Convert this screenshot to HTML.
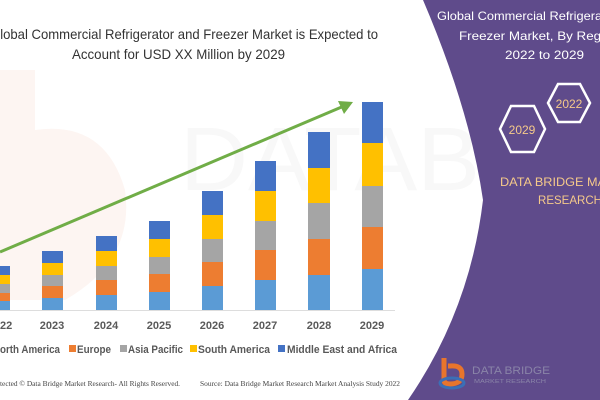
<!DOCTYPE html>
<html><head><meta charset="utf-8"><style>
html,body{margin:0;padding:0;background:#fff;width:600px;height:400px;overflow:hidden}
svg{display:block}
text{font-family:"Liberation Sans",sans-serif}
</style></head><body>
<svg width="600" height="400" viewBox="0 0 600 400" xmlns="http://www.w3.org/2000/svg">
<rect width="600" height="400" fill="#fff"/>
<!-- faint watermark -->
<path d="M0 70 h35 v60 q70 -10 90 60 q10 70 -60 110 h-65z" fill="#fdf5f2"/>
<text x="180" y="190" font-size="90" fill="#f8f8f8" textLength="300" lengthAdjust="spacingAndGlyphs">DATAB</text>
<!-- title -->
<text x="-10" y="39" font-size="14" fill="#333" textLength="388" lengthAdjust="spacingAndGlyphs">Global Commercial Refrigerator and Freezer Market is Expected to</text>
<text x="72" y="59" font-size="14" fill="#333" textLength="213" lengthAdjust="spacingAndGlyphs">Account for USD XX Million by 2029</text>
<!-- baseline -->
<line x1="0" y1="310.5" x2="395" y2="310.5" stroke="#ddd"/>
<g>
<rect x="-11" y="266" width="21" height="9" fill="#4472c4"/><rect x="-11" y="275" width="21" height="9" fill="#ffc000"/><rect x="-11" y="284" width="21" height="9" fill="#a5a5a5"/><rect x="-11" y="293" width="21" height="8" fill="#ed7d31"/><rect x="-11" y="301" width="21" height="9" fill="#5b9bd5"/>
<rect x="42" y="251" width="21" height="12" fill="#4472c4"/><rect x="42" y="263" width="21" height="12" fill="#ffc000"/><rect x="42" y="275" width="21" height="11" fill="#a5a5a5"/><rect x="42" y="286" width="21" height="12" fill="#ed7d31"/><rect x="42" y="298" width="21" height="12" fill="#5b9bd5"/>
<rect x="96" y="236" width="21" height="15" fill="#4472c4"/><rect x="96" y="251" width="21" height="15" fill="#ffc000"/><rect x="96" y="266" width="21" height="14" fill="#a5a5a5"/><rect x="96" y="280" width="21" height="15" fill="#ed7d31"/><rect x="96" y="295" width="21" height="15" fill="#5b9bd5"/>
<rect x="149" y="221" width="21" height="18" fill="#4472c4"/><rect x="149" y="239" width="21" height="18" fill="#ffc000"/><rect x="149" y="257" width="21" height="17" fill="#a5a5a5"/><rect x="149" y="274" width="21" height="18" fill="#ed7d31"/><rect x="149" y="292" width="21" height="18" fill="#5b9bd5"/>
<rect x="202" y="191" width="21" height="24" fill="#4472c4"/><rect x="202" y="215" width="21" height="24" fill="#ffc000"/><rect x="202" y="239" width="21" height="23" fill="#a5a5a5"/><rect x="202" y="262" width="21" height="24" fill="#ed7d31"/><rect x="202" y="286" width="21" height="24" fill="#5b9bd5"/>
<rect x="255" y="161" width="21" height="30" fill="#4472c4"/><rect x="255" y="191" width="21" height="30" fill="#ffc000"/><rect x="255" y="221" width="21" height="29" fill="#a5a5a5"/><rect x="255" y="250" width="21" height="30" fill="#ed7d31"/><rect x="255" y="280" width="21" height="30" fill="#5b9bd5"/>
<rect x="308" y="132" width="22" height="36" fill="#4472c4"/><rect x="308" y="168" width="22" height="35" fill="#ffc000"/><rect x="308" y="203" width="22" height="36" fill="#a5a5a5"/><rect x="308" y="239" width="22" height="36" fill="#ed7d31"/><rect x="308" y="275" width="22" height="35" fill="#5b9bd5"/>
<rect x="362" y="102" width="21" height="41" fill="#4472c4"/><rect x="362" y="143" width="21" height="43" fill="#ffc000"/><rect x="362" y="186" width="21" height="41" fill="#a5a5a5"/><rect x="362" y="227" width="21" height="42" fill="#ed7d31"/><rect x="362" y="269" width="21" height="41" fill="#5b9bd5"/>
</g>
<!-- arrow -->
<line x1="0" y1="252" x2="344" y2="106" stroke="#70ad47" stroke-width="3"/>
<polygon points="353,102 338,101 344,114" fill="#70ad47"/>
<!-- x labels -->
<g font-size="11" font-weight="bold" fill="#595959" text-anchor="middle">
<text x="0" y="329">2022</text><text x="52" y="329">2023</text><text x="106" y="329">2024</text><text x="159" y="329">2025</text><text x="212" y="329">2026</text><text x="265" y="329">2027</text><text x="319" y="329">2028</text><text x="372" y="329">2029</text>
</g>
<!-- legend -->
<g font-size="11" font-weight="bold" fill="#595959" lengthAdjust="spacingAndGlyphs">
<text x="0" y="353" textLength="60" lengthAdjust="spacingAndGlyphs">orth America</text>
<rect x="69" y="345" width="7" height="7" fill="#ed7d31"/><text x="77" y="353" textLength="34" lengthAdjust="spacingAndGlyphs">Europe</text>
<rect x="120" y="345" width="7" height="7" fill="#a5a5a5"/><text x="128" y="353" textLength="55" lengthAdjust="spacingAndGlyphs">Asia Pacific</text>
<rect x="190" y="345" width="7" height="7" fill="#ffc000"/><text x="198" y="353" textLength="72" lengthAdjust="spacingAndGlyphs">South America</text>
<rect x="278" y="345" width="7" height="7" fill="#4472c4"/><text x="287" y="353" textLength="110" lengthAdjust="spacingAndGlyphs">Middle East and Africa</text>
</g>
<g font-size="7.5" fill="#444">
<text x="0" y="386" style="font-family:'Liberation Serif',serif" textLength="180" lengthAdjust="spacingAndGlyphs">tected © Data Bridge Market Research- All Rights Reserved.</text>
<text x="200" y="386" style="font-family:'Liberation Serif',serif" textLength="200" lengthAdjust="spacingAndGlyphs">Source: Data Bridge Market Research Market Analysis Study 2022</text>
</g>
<!-- purple panel -->
<path d="M423 0 Q470 110 483 200 Q470 310 408 400 L600 400 L600 0Z" fill="#5f4b8b"/>
<g font-size="12" fill="#fff">
<text x="437" y="20" textLength="205" lengthAdjust="spacingAndGlyphs">Global Commercial Refrigerator and</text>
<text x="459" y="40" textLength="160" lengthAdjust="spacingAndGlyphs">Freezer Market, By Region</text>
<text x="505" y="59" textLength="79" lengthAdjust="spacingAndGlyphs">2022 to 2029</text>
</g>
<polygon points="548,103 558,84 580,84 590,103 580,122 558,122" fill="none" stroke="#fff" stroke-width="2.5"/>
<polygon points="500,129 511,106 534,106 545,129 534,152 511,152" fill="none" stroke="#fff" stroke-width="2.5"/>
<text x="569" y="108" font-size="12" fill="#f5c98a" text-anchor="middle">2022</text>
<text x="522" y="134" font-size="12" fill="#f5c98a" text-anchor="middle">2029</text>
<text x="500" y="186" font-size="12" fill="#f5c98a" textLength="140" lengthAdjust="spacingAndGlyphs">DATA BRIDGE MARKET</text>
<text x="538" y="204" font-size="12" fill="#f5c98a" textLength="64" lengthAdjust="spacingAndGlyphs">RESEARCH</text>
<!-- logo -->
<path d="M444 358 v22 q0 4 6 4 q12 0 12 -10 q0 -9 -12 -8 h-2" fill="none" stroke="#e8752c" stroke-width="5"/>
<ellipse cx="452" cy="383" rx="12" ry="5" fill="none" stroke="#3b6fb6" stroke-width="3"/>
<text x="472" y="374" font-size="11" fill="#8a84a8" textLength="78" lengthAdjust="spacingAndGlyphs">DATA BRIDGE</text>
<text x="474" y="383" font-size="5" fill="#8a84a8" textLength="72" lengthAdjust="spacingAndGlyphs">MARKET RESEARCH</text>
</svg>
</body></html>
